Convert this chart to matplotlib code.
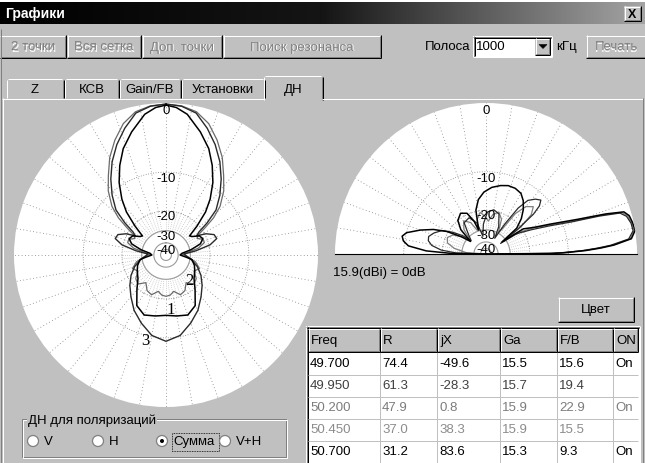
import numpy as np
import matplotlib
matplotlib.use("Agg")
import matplotlib.pyplot as plt
from matplotlib.colors import LinearSegmentedColormap
from matplotlib.patches import Rectangle, Circle, Polygon

W, H = 645, 464
FACE = '#c0c0c0'
SHADOW = '#808080'
LW = 0.72  # one pixel at 100 dpi

plt.rcParams['font.family'] = ['Liberation Sans', 'DejaVu Sans']
plt.rcParams['font.size'] = 9.5
NARROW = ['Liberation Sans Narrow', 'Liberation Sans', 'DejaVu Sans']

# ---- dialog texts ----
TITLE = 'Графики'
TOP_BUTTONS = ['2 точки', 'Вся сетка', 'Доп. точки', 'Поиск резонанса']
PRINT_BUTTON = 'Печать'
BAND_LABEL, BAND_KHZ, BAND_UNIT = 'Полоса', '1000', 'кГц'
TABS = ['Z', 'КСВ', 'Gain/FB', 'Установки', 'ДН']
ACTIVE_TAB = 4
GAIN_NOTE = '15.9(dBi) = 0dB'
COLOR_BUTTON = 'Цвет'
POL_TITLE = 'ДН для поляризаций'
POL_OPTIONS = ['V', 'H', 'Сумма', 'V+H']
POL_SELECTED = 2

# ---- frequency table ----
TABLE_COLS = ['Freq', 'R', 'jX', 'Ga', 'F/B', 'ON']
FREQ_MHZ = [49.700, 49.950, 50.200, 50.450, 50.700]
R_OHM = [74.4, 61.3, 47.9, 37.0, 31.2]
JX_OHM = [-49.6, -28.3, 0.8, 38.3, 83.6]
GA_DBI = [15.5, 15.7, 15.9, 15.9, 15.3]
FB_DB = [15.6, 19.4, 22.9, 15.5, 9.3]
ON_FLAG = ['On', '', 'On', '', 'On']
ROW_COLORS = ['#000000', '#404040', '#7c7c7c', '#8c8c8c', '#000000']

# ---- polar dB scale (ring radius as fraction of the plot radius) ----
RING_DB = [-50, -40, -30, -20, -10, 0]
RING_FRAC = [0.0, 0.08, 0.16, 0.29, 0.545, 1.0]
RING_LABELS = [0, -10, -20, -30, -40]
RING_LABEL_DROP = [-7, -6, -5, -5, -7]  # label sits just below its ring (pixels)

# ---- azimuth patterns (half pattern 0..180 deg, symmetric) ----
AZ1_DEG = [0, 4, 8.6, 15.6, 21.9, 27.3, 32.9, 38.3, 42.6, 47, 51, 55, 60, 66, 72, 78, 84, 90,
           96, 100, 110, 120, 130, 140, 150, 160, 170, 180]
AZ1_DB = [-0.3, -0.6, -1.4, -3.5, -5.4, -7.4, -9.5, -13.0, -16.3, -20.9, -27, -26, -22.9, -21.9,
          -24, -29.3, -36.8, -38.4, -33.5, -29.0, -27.0, -25.5, -23.8, -19.7, -16.3, -14.9, -15.4, -15.8]
AZ2_DEG = [0, 6, 12, 18, 24, 30, 36, 42, 48, 52, 55, 58, 62, 67, 72, 78, 83, 88, 92, 98,
           103, 112, 120, 128, 136, 144, 152, 160, 168, 174, 180]
AZ2_DB = [-0.15, -0.3, -0.8, -2.0, -3.8, -5.7, -7.8, -9.5, -12.6, -15.8, -19.0, -22.9, -24.5, -21.9,
          -21.9, -25.5, -31.8, -36.8, -33.5, -30, -27, -24, -26, -22.9, -21.9, -25, -21.9, -20.9,
          -23.5, -21.9, -21.4]
AZ3_DEG = [0, 6, 12, 18, 24, 30, 36, 42, 48, 52, 55, 58, 62, 67, 72, 77, 82, 87, 92, 100,
           110, 120, 130, 140, 150, 160, 170, 180]
AZ3_DB = [-0.15, -0.35, -1.0, -2.7, -4.5, -6.4, -8.4, -10.6, -14.0, -17.9, -21.9, -24.0, -19.7,
          -17.9, -17.6, -19.7, -27.0, -35.1, -33.5, -29.3, -25.5, -21.9, -19.2, -17.3, -14.9,
          -12.7, -10.3, -9.5]

# ---- elevation patterns (0 = horizon right, 180 = horizon left) ----
EL1_DEG = [0, 0.5, 1, 2, 3, 4, 6, 9, 12, 15, 17, 18.5, 20.8, 24.9, 29, 34, 37,
           40, 45, 50, 55, 60, 66, 72, 78, 85, 92, 98, 103, 107, 110, 115, 122, 130, 136, 141,
           145, 150, 155, 160, 165, 168, 171, 174, 177, 179, 180]
EL1_DB = [-50, -13.9, -10.6, -7.4, -5.2, -3.3, -0.7, 0, -0.15, -0.4, -1.0, -3.6, -7.8, -12.9,
          -17.1, -19.7, -33.5,
          -21.9, -18.4, -16.3, -14.5, -13.2, -12.7, -12.7, -13.2, -14.0, -15.3, -17.1, -19.7,
          -29.6, -24.5, -19.7, -18.9, -20.0, -24.5, -33.5, -27.0, -19.7, -16.3, -13.2, -10.0,
          -9.5, -9.8, -11.1, -15.8, -24.5, -50]
EL2_DEG = [0, 0.5, 1, 2, 3, 4, 6, 9, 12, 15, 17, 18.5, 20.5, 24, 28, 32, 34, 36,
           38, 40, 42, 44.5, 48, 52, 55, 58, 61, 65, 72, 80, 88, 95, 100, 106, 115, 125, 133, 138,
           142, 147, 152, 158, 163, 167, 171, 175, 178, 180]
EL2_DB = [-50, -15.0, -11.5, -8.0, -5.8, -3.8, -1.1, -0.3, -0.4, -0.8, -1.6, -4.6, -8.6, -13.5,
          -17.9, -21.9, -24.5, -35.1,
          -21.9, -15.3, -12.7, -11.4, -12.2, -13.7, -16.8, -24.5, -35.1, -27.0, -20.9, -19.7,
          -20.9, -27.0, -35.1, -26.0, -21.9, -22.9, -29.6, -33.5, -27.0, -21.9, -18.4, -16.8,
          -15.8, -16.0, -17.1, -19.7, -27.0, -50]
EL3_DEG = [0, 0.5, 1, 2, 3, 4, 6, 9, 12, 15, 17, 18.5, 20.6, 24.5, 29, 33, 35,
           38, 41, 45, 50, 54, 57, 60, 66, 73, 80, 86, 92, 98, 104, 110, 116, 124, 132, 138, 143,
           150, 157, 164, 170, 176, 180]
EL3_DB = [-50, -14.5, -11.0, -7.7, -5.5, -3.5, -0.9, -0.15, -0.3, -0.6, -1.3, -4.1, -8.2, -13.2,
          -17.5, -21.9, -31.8,
          -19.7, -15.8, -14.0, -15.3, -18.4, -27.0, -29.6, -22.9, -20.0, -21.9, -25.5, -22.9,
          -20.9, -24.0, -29.6, -24.5, -21.9, -25.5, -31.8, -28.1, -22.9, -20.9, -21.9, -26.0,
          -33.5, -50]

# curve labels on the azimuth plot: (text, angle deg, dB)
AZ_CURVE_LABELS = [('1', 174.7, -17.3), ('2', 137.4, -25.0), ('3', 193.9, -9.3)]


def _frac(db):
    """dB -> radius as a fraction of the plot radius (MMANA-style log grid)."""
    return np.interp(db, RING_DB, RING_FRAC)


def _fig_rect(x0, y0, w, h):
    return [x0 / W, (H - y0 - h) / H, w / W, h / H]


def _hline(ax, x0, x1, y, color, lw=LW):
    ax.plot([x0, x1], [y, y], color=color, lw=lw, solid_capstyle='butt')


def _vline(ax, x, y0, y1, color, lw=LW):
    ax.plot([x, x], [y0, y1], color=color, lw=lw, solid_capstyle='butt')


def _raised(ax, x0, y0, x1, y1):
    ax.add_patch(Rectangle((x0, y0), x1 - x0, y1 - y0, facecolor=FACE, edgecolor='none'))
    _hline(ax, x0, x1 - 1, y0 + 0.5, 'white')
    _vline(ax, x0 + 0.5, y0, y1 - 1, 'white')
    _hline(ax, x0 + 1, x1 - 1, y1 - 1.5, SHADOW)
    _vline(ax, x1 - 1.5, y0 + 1, y1 - 1, SHADOW)
    _hline(ax, x0, x1, y1 - 0.5, 'black')
    _vline(ax, x1 - 0.5, y0, y1, 'black')


def _sunken(ax, x0, y0, x1, y1, face='white'):
    ax.add_patch(Rectangle((x0, y0), x1 - x0, y1 - y0, facecolor=face, edgecolor='none'))
    _hline(ax, x0, x1, y0 + 0.5, SHADOW)
    _vline(ax, x0 + 0.5, y0, y1, SHADOW)
    _hline(ax, x0 + 1, x1 - 1, y0 + 1.5, 'black')
    _vline(ax, x0 + 1.5, y0 + 1, y1 - 1, 'black')
    _hline(ax, x0, x1, y1 - 0.5, 'white')
    _vline(ax, x1 - 0.5, y0, y1, 'white')


def _label(ax, x, y, s, enabled=True, ha='center', **kw):
    if not enabled:
        ax.text(x + 1, y + 1, s, color='white', ha=ha, va='center', **kw)
        ax.text(x, y, s, color=SHADOW, ha=ha, va='center', **kw)
    else:
        ax.text(x, y, s, color='black', ha=ha, va='center', **kw)


def _button(ax, x0, y0, x1, y1, text, enabled=True):
    _raised(ax, x0, y0, x1, y1)
    _label(ax, (x0 + x1) / 2, (y0 + y1) / 2, text, enabled)


def _polar_grid(ax, thetas_deg, full):
    t_ring = np.radians(np.linspace(0, 360 if full else 180, 361))
    for db in (-10, -20):
        ax.plot(t_ring, np.full_like(t_ring, _frac(db)), color=SHADOW, lw=0.6, ls=(0, (1, 2)))
    for db in (-30, -40, -45.5):
        ax.plot(t_ring, np.full_like(t_ring, _frac(db)), color='#9a9a9a', lw=0.8)
    for t in thetas_deg:
        ax.plot(np.radians([t, t]), _frac(np.array([-20, 0])), color=SHADOW, lw=0.6,
                ls=(0, (1, 3)))
    fine = list(thetas_deg) + list(np.arange(thetas_deg[0] + 5, thetas_deg[-1], 10))
    for t in fine:
        ax.plot(np.radians([t, t]), _frac(np.array([-30, -20])), color='#a8a8a8', lw=0.5,
                ls=(0, (1, 2)))


def _ring_labels(ax, theta):
    for db, drop in zip(RING_LABELS, RING_LABEL_DROP):
        ax.annotate(str(db), xy=(theta, _frac(db)), xytext=(0, drop), textcoords='offset pixels',
                    ha='center', va='center', fontsize=9.5, family=NARROW)


def _polar_axes(rect):
    ax = fig.add_axes(rect, projection='polar')
    ax.set_facecolor('white')
    ax.grid(False)
    ax.set_xticks([])
    ax.set_yticks([])
    for sp in ax.spines.values():
        sp.set_visible(False)
    return ax


fig = plt.figure(figsize=(W / 100, H / 100), dpi=100)
fig.patch.set_facecolor(FACE)
bg = fig.add_axes([0, 0, 1, 1])
bg.axis('off')

# title bar
bg.add_patch(Rectangle((0, 0), W, 3, facecolor='white', edgecolor='none'))
title_cmap = LinearSegmentedColormap.from_list('title', ['#000000', '#151515', '#a4a4a4'])
bg.imshow(np.linspace(0, 1, 256)[None, :], extent=[0, W, 25, 3], cmap=title_cmap, aspect='auto')
bg.set_xlim(0, W)
bg.set_ylim(H, 0)
bg.text(5, 14, TITLE, color='white', fontweight='bold', fontsize=10, va='center', ha='left')
_raised(bg, 624, 7, 641, 22)
bg.text(632.5, 14.5, 'X', fontweight='bold', fontsize=9, ha='center', va='center')

# button row
for (x0, x1), text in zip([(0, 66), (67, 141), (142, 222), (223, 381)], TOP_BUTTONS):
    _button(bg, x0, 36, x1, 59, text, enabled=False)
_button(bg, 586, 36, 646, 59, PRINT_BUTTON, enabled=False)
_label(bg, 470, 47, BAND_LABEL, ha='right')
_sunken(bg, 473, 37, 552, 58)
bg.text(476, 47, BAND_KHZ, ha='left', va='center')
_raised(bg, 535, 39, 550, 56)
bg.add_patch(Polygon([(539, 45.5), (547, 45.5), (543, 49.5)], closed=True, facecolor='black',
                     edgecolor='black', lw=0.4))
_label(bg, 556, 47, BAND_UNIT, ha='left')

# tabs and page frame
tab_edges = [6, 64, 119, 181, 265, 321]
for i, name in enumerate(TABS):
    x0, x1 = tab_edges[i], tab_edges[i + 1]
    top, bottom = 79, 99
    if i == ACTIVE_TAB:
        x0, x1, top, bottom = x0 - 2, x1 + 2, 76, 101
    bg.add_patch(Rectangle((x0, top), x1 - x0, bottom - top, facecolor=FACE, edgecolor='none'))
    _vline(bg, x0 + 0.5, top + 2, bottom, 'white')
    _hline(bg, x0 + 2, x1 - 2, top + 0.5, 'white')
    _vline(bg, x1 - 1.5, top + 2, bottom, SHADOW)
    _vline(bg, x1 - 0.5, top + 2, bottom, 'black')
    bg.text((x0 + x1) / 2, (top + bottom) / 2 + 1, name, ha='center', va='center')
a0, a1 = tab_edges[ACTIVE_TAB] - 2, tab_edges[ACTIVE_TAB + 1] + 2
_hline(bg, 2, a0 + 1, 99.5, 'white')
_hline(bg, a1 - 1, 643, 99.5, 'white')
_vline(bg, 2.5, 99, H, 'white')
_vline(bg, 0.5, 30, H, SHADOW)
_vline(bg, 642.5, 99, H, SHADOW)
_vline(bg, 644.5, 30, H, 'black')

# gain note and colour button
bg.text(333, 273, GAIN_NOTE, ha='left', va='center')
_button(bg, 558, 298, 634, 323, COLOR_BUTTON)

# table
col_edges = [308, 380, 437, 500, 557, 613, 638]
row_edges = [353, 375, 397, 419, 441, 463]
_sunken(bg, 306, 327, 640, 466)
bg.add_patch(Rectangle((308, 353), 330, 111, facecolor='white', edgecolor='none'))
for y in row_edges[1:]:
    _hline(bg, 308, 638, y + 0.5, FACE)
for x in col_edges[1:-1]:
    _vline(bg, x - 0.5, 353, 464, FACE)
for i, name in enumerate(TABLE_COLS):
    _raised(bg, col_edges[i], 329, col_edges[i + 1], 353)
    bg.text(col_edges[i] + 3, 341.5, name, ha='left', va='center')
rows = zip(FREQ_MHZ, R_OHM, JX_OHM, GA_DBI, FB_DB, ON_FLAG, ROW_COLORS)
for r, (fq, rr, jx, ga, fb, on, color) in enumerate(rows):
    cells = [f'{fq:.3f}', f'{rr:.1f}', f'{jx:.1f}', f'{ga:.1f}', f'{fb:.1f}', on]
    yc = (row_edges[r] + row_edges[r + 1]) / 2 + 0.5
    for c, s in enumerate(cells):
        bg.text(col_edges[c] + 2, yc, s, ha='left', va='center', color=color)

# polarisation group box
for off, color in ((0, SHADOW), (1, 'white')):
    bg.add_patch(Rectangle((22 + off, 420 + off), 264, 38, facecolor='none', edgecolor=color,
                           lw=LW))
bg.text(28, 421, POL_TITLE, ha='left', va='center',
        bbox=dict(facecolor=FACE, edgecolor='none', pad=0.5))
for i, (cx, name) in enumerate(zip([33, 98, 162, 225], POL_OPTIONS)):
    bg.add_patch(Circle((cx, 442), 5.5, facecolor='white', edgecolor=SHADOW, lw=0.9))
    if i == POL_SELECTED:
        bg.add_patch(Circle((cx, 442), 2.0, facecolor='black', edgecolor='none'))
        bg.add_patch(Rectangle((171.5, 433.5), 47, 18, facecolor='none', edgecolor='black',
                               lw=0.6, ls=(0, (1, 1))))
    bg.text(cx + 11, 442, name, ha='left', va='center')

# azimuth plot
az = _polar_axes(_fig_rect(14, 104, 304, 304))
az.set_theta_zero_location('N')
az.set_theta_direction(-1)
_polar_grid(az, list(range(0, 360, 10)), full=True)
for deg, db, color, lw in ((AZ2_DEG, AZ2_DB, '#6a6a6a', 0.9),
                           (AZ3_DEG, AZ3_DB, '#2a2a2a', 1.0),
                           (AZ1_DEG, AZ1_DB, '#000000', 1.1)):
    deg, db = np.asarray(deg, float), np.asarray(db, float)
    th = np.radians(np.concatenate([deg, 360 - deg[::-1]]))
    az.plot(th, _frac(np.concatenate([db, db[::-1]])), color=color, lw=lw)
_ring_labels(az, 0)
for text, deg, db in AZ_CURVE_LABELS:
    az.text(np.radians(deg), _frac(db), text, ha='center', va='center', fontsize=12,
            family=['Liberation Serif', 'DejaVu Serif'])
az.set_rlim(0, 1)

# elevation plot: a half-disk polar axes only fills half of its box, so the
# box is doubled around the wanted centre (486, 179.5) to get R = 151 px
el = _polar_axes(_fig_rect(486 - 302, 179.5 - 151, 604, 302))
el.set_thetamin(0)
el.set_thetamax(180)
_polar_grid(el, list(range(0, 190, 10)), full=False)
for deg, db, color, lw in ((EL3_DEG, EL3_DB, '#808080', 0.9),
                           (EL2_DEG, EL2_DB, '#2a2a2a', 0.9),
                           (EL1_DEG, EL1_DB, '#000000', 1.1)):
    el.plot(np.radians(deg), _frac(np.asarray(db, float)), color=color, lw=lw)
_ring_labels(el, np.pi / 2)
el.set_rlim(0, 1)

fig.savefig('out.png', dpi=100, facecolor=FACE)
